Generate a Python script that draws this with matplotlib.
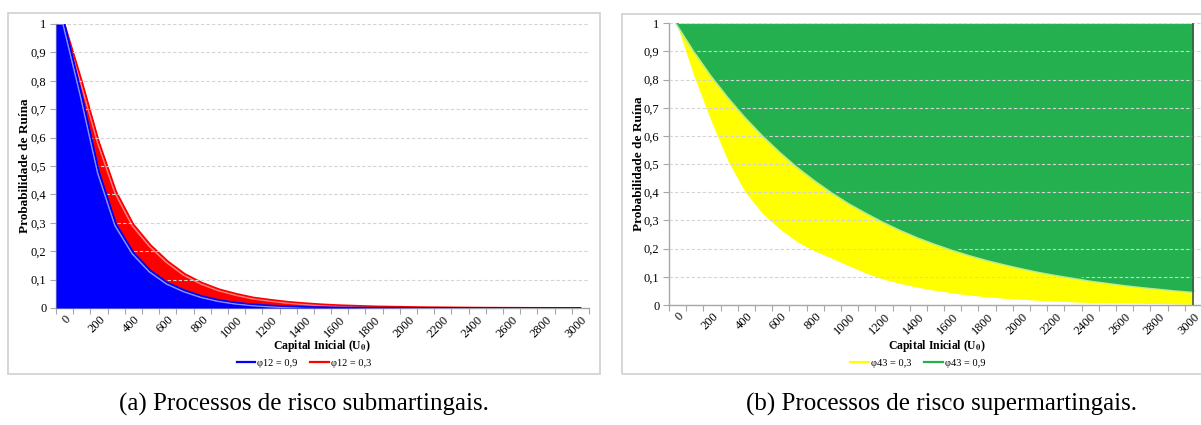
import matplotlib
matplotlib.use("Agg")
import matplotlib.pyplot as plt
from matplotlib.patches import Rectangle
from matplotlib.lines import Line2D
import matplotlib.patheffects as pe
import numpy as np

plt.rcParams['font.family'] = ['Liberation Serif', 'DejaVu Serif']
plt.rcParams['mathtext.fontset'] = 'stix'

# Initial capital categories (U0)
capital = list(range(0, 3001, 100))
tick_labels = [str(v) for v in range(0, 3001, 200)]
y_ticks = [0, 0.1, 0.2, 0.3, 0.4, 0.5, 0.6, 0.7, 0.8, 0.9, 1.0]
y_tick_labels = ['0', '0,1', '0,2', '0,3', '0,4', '0,5', '0,6', '0,7', '0,8', '0,9', '1']

# Ruin probabilities - submartingale processes
psi_phi12_09 = [1.0, 0.75, 0.48, 0.295, 0.196, 0.132, 0.089, 0.062, 0.042, 0.028,
                0.019, 0.013, 0.009, 0.006, 0.004, 0.003, 0.002, 0.0015, 0.001, 0.001,
                0.0007, 0.0005, 0.0004, 0.0003, 0.0002, 0.0002, 0.0001, 0.0001, 0.0001, 0.0, 0.0]
psi_phi12_03 = [1.0, 0.80, 0.585, 0.41, 0.295, 0.222, 0.165, 0.12, 0.089, 0.066,
                0.05, 0.037, 0.029, 0.022, 0.017, 0.013, 0.010, 0.008, 0.006, 0.005,
                0.004, 0.003, 0.0025, 0.002, 0.0015, 0.0012, 0.001, 0.0008, 0.0007, 0.0006, 0.0005]

# Ruin probabilities - supermartingale processes
psi_phi43_03 = [1.0, 0.815, 0.655, 0.51, 0.40, 0.325, 0.27, 0.225, 0.193, 0.167,
                0.14, 0.114, 0.093, 0.077, 0.064, 0.053, 0.044, 0.036, 0.03, 0.025,
                0.021, 0.018, 0.015, 0.012, 0.010, 0.009, 0.008, 0.007, 0.006, 0.005, 0.004]
psi_phi43_09 = [1.0, 0.904, 0.817, 0.739, 0.668, 0.604, 0.546, 0.493, 0.446, 0.403,
                0.364, 0.33, 0.298, 0.269, 0.243, 0.22, 0.199, 0.18, 0.163, 0.148,
                0.134, 0.121, 0.11, 0.1, 0.09, 0.082, 0.074, 0.067, 0.061, 0.055, 0.05]

BLUE = '#0000ff'
RED = '#ff0000'
YELLOW = '#ffff00'
GREEN = '#24b04e'
AXIS_GRAY = '#a6a6a6'

W, H = 1201, 425
fig = plt.figure(figsize=(W / 100, H / 100), dpi=100)


def px_axes(x0, x1, ytop, ybot):
    return fig.add_axes([x0 / W, (H - ybot) / H, (x1 - x0) / W, (ybot - ytop) / H])


def style_axes(ax, x):
    half = (x[1] - x[0]) / 2
    ax.set_xlim(x[0] - half, x[-1] + half)
    ax.set_ylim(0, 1)
    for s in ('top', 'right'):
        ax.spines[s].set_visible(False)
    for s in ('left', 'bottom'):
        ax.spines[s].set_color(AXIS_GRAY)
        ax.spines[s].set_linewidth(1.0)
    ax.set_yticks(y_ticks)
    ax.set_yticklabels(y_tick_labels, fontsize=9)
    bounds = np.arange(x[0] - half, x[-1] + half + 1, 2 * half)
    ax.set_xticks(bounds)
    ax.set_xticklabels([''] * len(bounds))
    ax.set_xticks(x[::2], minor=True)
    ax.set_xticklabels(tick_labels, minor=True, rotation=45, ha='right', va='top',
                       rotation_mode='anchor', fontsize=9)
    ax.tick_params(axis='x', which='major', length=4, color=AXIS_GRAY, direction='out')
    ax.tick_params(axis='x', which='minor', length=0, pad=4)
    ax.tick_params(axis='y', length=4, color=AXIS_GRAY, direction='out', pad=3)
    ax.grid(axis='y', color='#d4d4d4', linestyle=(0, (3, 2)), linewidth=0.8, zorder=5)
    ax.set_axisbelow(False)
    ax.set_facecolor('none')


def glow(color):
    return [pe.SimpleLineShadow(offset=(-0.9, -0.9), shadow_color=color, alpha=0.8, rho=1.0),
            pe.Normal()]


x = np.array(capital, dtype=float)

# Panel frames
fig.add_artist(Rectangle((8 / W, (H - 374) / H), 592 / W, 361 / H, transform=fig.transFigure,
                         fill=False, edgecolor='#cfcfcf', linewidth=1.2))
fig.add_artist(Rectangle((622 / W, (H - 374) / H), 590 / W, 360 / H, transform=fig.transFigure,
                         fill=False, edgecolor='#cfcfcf', linewidth=1.2))

# ---- (a) submartingale processes ----
ax1 = px_axes(56, 589, 24, 308)
style_axes(ax1, x)
half = (x[1] - x[0]) / 2
red = np.array(psi_phi12_03)
blue = np.array(psi_phi12_09)
ax1.fill_between(x, 0, red, color=RED, linewidth=0, zorder=1)
ax1.plot(x, red, color=RED, lw=1.2, zorder=2, path_effects=glow('#ff9a9a'))
xb = np.concatenate([[x[0] - half], x])
yb = np.concatenate([[blue[0]], blue])
ax1.fill_between(xb, 0, yb, color=BLUE, linewidth=0, zorder=3)
ax1.plot(x, blue, color=BLUE, lw=1.2, zorder=4, path_effects=glow('#a8b4ff'))
ax1.set_ylabel('Probabilidade de Ruína', fontsize=9.5, fontweight='bold')
ax1.yaxis.set_label_coords((31 - 56) / (589 - 56), 0.5)

fig.text(322 / W, 1 - 346 / H, r'Capital Inicial (U$_{\mathbf{0}}$)', ha='center', va='center',
         fontsize=8.5, fontweight='bold')
fig.legend(handles=[Line2D([], [], color=BLUE, lw=1.6), Line2D([], [], color=RED, lw=1.6)],
           labels=['φ12 = 0,9', 'φ12 = 0,3'], loc='center', ncol=2,
           bbox_to_anchor=(304 / W, 1 - 363 / H), frameon=False, fontsize=7.5,
           handlelength=1.8, handletextpad=0.2, columnspacing=1.2)

# ---- (b) supermartingale processes ----
ax2 = px_axes(669, 1202, 23.3, 305)
style_axes(ax2, x)
yel = np.array(psi_phi43_03)
grn = np.array(psi_phi43_09)
ax2.fill_between(x, grn, 1, color=GREEN, linewidth=0, zorder=1)
ax2.fill_between(x, yel, grn, color=YELLOW, linewidth=0, zorder=1)
ax2.plot(x, yel, color=YELLOW, lw=1.0, zorder=2)
ax2.plot(x, grn, color=GREEN, lw=1.2, zorder=3, path_effects=glow('#a6e8b8'))
ax2.vlines(x[-1], 0, 1, color='#3d5c45', lw=1.2, zorder=4)
ax2.set_ylabel('Probabilidade de Ruína', fontsize=9.5, fontweight='bold')
ax2.yaxis.set_label_coords((645 - 669) / (1202 - 669), 0.5)

fig.text(937 / W, 1 - 346 / H, r'Capital Inicial (U$_{\mathbf{0}}$)', ha='center', va='center',
         fontsize=8.5, fontweight='bold')
fig.legend(handles=[Line2D([], [], color=YELLOW, lw=1.6), Line2D([], [], color=GREEN, lw=1.6)],
           labels=['φ43 = 0,3', 'φ43 = 0,9'], loc='center', ncol=2,
           bbox_to_anchor=(918 / W, 1 - 363 / H), frameon=False, fontsize=7.5,
           handlelength=1.8, handletextpad=0.2, columnspacing=1.2)

# Captions
fig.text(304 / W, 1 - 404 / H, '(a) Processos de risco submartingais.', ha='center', va='center',
         fontsize=18)
fig.text(942 / W, 1 - 404 / H, '(b) Processos de risco supermartingais.', ha='center', va='center',
         fontsize=18)

fig.savefig('out.png', dpi=100)
